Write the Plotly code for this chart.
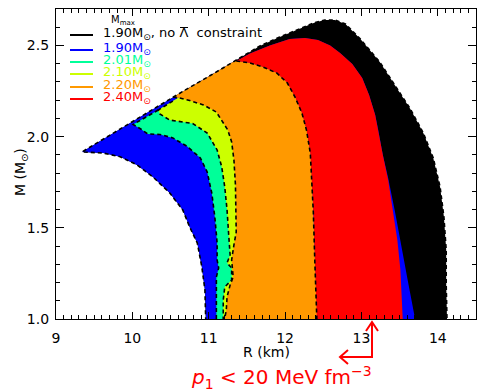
import plotly.graph_objects as go

# ---------------- data (R in km, M in solar masses) ----------------
# outer upper-left envelope (apex -> top of the black region)
env_R = [9.34, 9.84, 10.23, 10.66, 11.02, 11.36, 11.67, 11.93, 12.20, 12.39, 12.52, 12.65]
env_M = [1.916, 2.042, 2.141, 2.248, 2.335, 2.420, 2.497, 2.546, 2.593, 2.626, 2.640, 2.640]
# right edge of the black (no Lambda constraint) region
black_right_R = [12.79, 12.98, 13.24, 13.41, 13.64, 13.81, 13.94, 14.03, 14.08, 14.11, 14.11, 14.12, 14.13]
black_right_M = [2.618, 2.538, 2.409, 2.300, 2.152, 2.020, 1.883, 1.724, 1.559, 1.378, 1.186, 1.005, 0.95]
# lower-left (inner) edge of the allowed band
inner_R = [9.34, 9.62, 9.84, 10.06, 10.27, 10.49, 10.66, 10.75, 10.85, 10.91, 10.95, 10.96, 10.97]
inner_M = [1.916, 1.910, 1.890, 1.845, 1.779, 1.691, 1.598, 1.505, 1.417, 1.285, 1.159, 1.005, 0.95]
# right edge of the 1.90 Msun (with Lambda) region below the red region
blue_right_R = [13.72, 13.70, 13.61, 13.53, 13.44, 13.35]
blue_right_M = [0.95, 1.005, 1.203, 1.389, 1.587, 1.773]
# outer edge of the 2.40 Msun region (bottom right -> top -> upper-left corner)
red_outer_R = [13.55, 13.54, 13.51, 13.47, 13.41, 13.35, 13.28, 13.22, 13.18, 13.10, 13.01, 12.88,
               12.72, 12.59, 12.43, 12.26, 12.06, 11.80, 11.54, 11.36]
red_outer_M = [0.95, 1.005, 1.269, 1.433, 1.598, 1.762, 1.899, 2.036, 2.119, 2.228, 2.322, 2.398,
               2.459, 2.500, 2.530, 2.541, 2.535, 2.500, 2.456, 2.415]
# left (dashed) edges of each constrained region
red_left_R = [11.36, 11.54, 11.71, 11.89, 12.03, 12.13, 12.22, 12.28, 12.33, 12.35, 12.37, 12.39, 12.42, 12.42]
red_left_M = [2.415, 2.404, 2.382, 2.349, 2.294, 2.217, 2.130, 2.036, 1.910, 1.762, 1.581, 1.307, 1.005, 0.95]
orange_left_R = [10.53, 10.62, 10.75, 10.93, 11.10, 11.17, 11.25, 11.30, 11.33, 11.35, 11.36, 11.36,
                 11.33, 11.30, 11.32, 11.28, 11.24, 11.23, 11.21, 11.21]
orange_left_M = [2.217, 2.212, 2.198, 2.174, 2.135, 2.091, 2.036, 1.971, 1.872, 1.735, 1.598, 1.477,
                 1.406, 1.324, 1.230, 1.186, 1.121, 1.049, 1.005, 0.95]
yellow_left_R = [10.53, 10.34, 10.36, 10.49, 10.79, 10.98, 11.11, 11.17, 11.21, 11.24, 11.26, 11.28,
                 11.24, 11.30, 11.30, 11.21, 11.19, 11.19, 11.19]
yellow_left_M = [2.195, 2.146, 2.124, 2.091, 2.072, 2.020, 1.927, 1.834, 1.724, 1.598, 1.472, 1.351,
                 1.307, 1.280, 1.214, 1.175, 1.104, 1.005, 0.95]
green_left_R = [10.34, 10.17, 10.01, 10.11, 10.20, 10.36, 10.53, 10.72, 10.89, 10.98, 11.04, 11.08,
                11.11, 11.11, 11.13, 11.10, 11.10, 11.10, 11.10]
green_left_M = [2.146, 2.105, 2.067, 2.042, 2.015, 2.012, 1.993, 1.946, 1.883, 1.806, 1.691, 1.559,
                1.417, 1.324, 1.280, 1.230, 1.104, 1.005, 0.95]
# thin strip just below the envelope (top of the 2.01 / 2.10 regions)
strip_R = [11.36, 11.02, 10.66, 10.53, 10.34]
strip_M = [2.401, 2.316, 2.228, 2.195, 2.146]

labels = ["1.90M<sub>⊙</sub>, no Λ\u00a0\u00a0constraint", "1.90M<sub>⊙</sub>", "2.01M<sub>⊙</sub>",
          "2.10M<sub>⊙</sub>", "2.20M<sub>⊙</sub>", "2.40M<sub>⊙</sub>"]
colors = ["#000000", "#0000ff", "#00ff99", "#ccff00", "#ff9900", "#ff0000"]

x_ticks = [9, 10, 11, 12, 13, 14]
y_ticks = [1.0, 1.5, 2.0, 2.5]

# ---------------- polygons built from the boundaries ----------------
def rev(a):
    return list(a)[::-1]

black_poly = (env_R + black_right_R + rev(inner_R), env_M + black_right_M + rev(inner_M))
blue_poly = (inner_R + blue_right_R + red_outer_R[6:] + rev(env_R[:6]),
             inner_M + blue_right_M + red_outer_M[6:] + rev(env_M[:6]))
green_poly = (green_left_R + rev(red_left_R) + strip_R, green_left_M + rev(red_left_M) + strip_M)
yellow_poly = (yellow_left_R + rev(red_left_R) + strip_R[:4], yellow_left_M + rev(red_left_M) + strip_M[:4])
orange_poly = (orange_left_R + rev(red_left_R) + rev(env_R[3:6]),
               orange_left_M + rev(red_left_M) + rev(env_M[3:6]))
red_poly = (red_left_R + red_outer_R, red_left_M + red_outer_M)

DASH = dict(color="black", width=1.6, dash="4px,3px")

fig = go.Figure()


def fill(poly, color):
    fig.add_trace(go.Scatter(x=poly[0], y=poly[1], mode="lines", fill="toself", fillcolor=color,
                             line=dict(width=0, color=color), hoverinfo="skip", showlegend=False))


def dashed(xs, ys):
    fig.add_trace(go.Scatter(x=xs, y=ys, mode="lines", line=DASH, hoverinfo="skip", showlegend=False))


fill(black_poly, colors[0])
fill(blue_poly, colors[1])
fill(green_poly, colors[2])
dashed(green_left_R, green_left_M)
fill(yellow_poly, colors[3])
dashed(yellow_left_R, yellow_left_M)
fill(orange_poly, colors[4])
dashed(orange_left_R, orange_left_M)
fill(red_poly, colors[5])
dashed(red_left_R, red_left_M)
dashed(rev(inner_R) + env_R + black_right_R, rev(inner_M) + env_M + black_right_M)

# ---------------- layout ----------------
L, T, W, H = 56, 9, 420, 310


def px(x):
    return (x - L) / W


def py(y):
    return (T + H - y) / H


FONT = "DejaVu Sans, Verdana, sans-serif"
annotations = []
shapes = []

# legend
annotations.append(dict(xref="paper", yref="paper", x=px(109), y=py(21), xanchor="left", yanchor="middle",
                        text="M<sub>max</sub>", showarrow=False, font=dict(family=FONT, size=10, color="black")))
row_y = [35, 50, 62, 74, 87, 99]
for lab, col, ry in zip(labels, colors, row_y):
    shapes.append(dict(type="line", xref="paper", yref="paper", x0=px(70), x1=px(93), y0=py(ry), y1=py(ry),
                       line=dict(color=col, width=2)))
    annotations.append(dict(xref="paper", yref="paper", x=px(101), y=py(ry - 1.5), xanchor="left",
                            yanchor="middle", text=lab, showarrow=False,
                            font=dict(family=FONT, size=13, color=col)))
# bar over Lambda
shapes.append(dict(type="line", xref="paper", yref="paper", x0=px(180), x1=px(188), y0=py(27.5), y1=py(27.5),
                   line=dict(color="black", width=1)))

# axis titles
annotations.append(dict(xref="paper", yref="paper", x=0.5, y=py(352), xanchor="center", yanchor="middle",
                        text="R (km)", showarrow=False, font=dict(family=FONT, size=14, color="black")))
annotations.append(dict(xref="paper", yref="paper", x=px(21), y=py(172), xanchor="center", yanchor="middle",
                        text="M (M<sub>⊙</sub>)", textangle=-90, showarrow=False,
                        font=dict(family=FONT, size=14, color="black")))

# red bracket arrow + label
RED = dict(color="#ff0000", width=2)
shapes.append(dict(type="path", xref="paper", yref="paper", line=RED,
                   path=f"M {px(372)} {py(323)} L {px(372)} {py(357)} L {px(341)} {py(357)}"))
shapes.append(dict(type="path", xref="paper", yref="paper", line=RED,
                   path=f"M {px(366)} {py(331)} L {px(372)} {py(322)} L {px(378)} {py(331)}"))
shapes.append(dict(type="path", xref="paper", yref="paper", line=RED,
                   path=f"M {px(348)} {py(350)} L {px(340)} {py(357)} L {px(348)} {py(364)}"))
annotations.append(dict(xref="paper", yref="paper", x=px(281), y=py(377.5), xanchor="center", yanchor="middle",
                        text="<i>p</i><sub>1</sub> < 20 MeV fm<sup>−3</sup>", showarrow=False,
                        font=dict(family=FONT, size=20, color="#ff0000")))

axis_common = dict(showgrid=False, zeroline=False, showline=True, linecolor="black", linewidth=1.3,
                   mirror="allticks", ticks="inside", tickcolor="black", tickwidth=1,
                   tickfont=dict(family=FONT, size=14, color="black"))

fig.update_layout(
    width=477, height=392,
    margin=dict(l=L, r=477 - L - W, t=T, b=392 - T - H),
    paper_bgcolor="white", plot_bgcolor="white",
    showlegend=False,
    font=dict(family=FONT, size=13, color="black"),
    xaxis=dict(range=[9, 14.5], tickmode="array", tickvals=x_ticks, ticklen=7,
               minor=dict(dtick=0.1, tick0=9, ticks="inside", ticklen=3.5, tickcolor="black", tickwidth=1),
               ticklabelstandoff=6, **axis_common),
    yaxis=dict(range=[1.0, 2.7], tickmode="array", tickvals=y_ticks, tickformat=".1f", ticklen=8,
               minor=dict(dtick=0.1, tick0=1.0, ticks="inside", ticklen=4, tickcolor="black", tickwidth=1),
               ticklabelstandoff=3, **axis_common),
    annotations=annotations,
    shapes=shapes,
)

fig.write_html("out.html")
